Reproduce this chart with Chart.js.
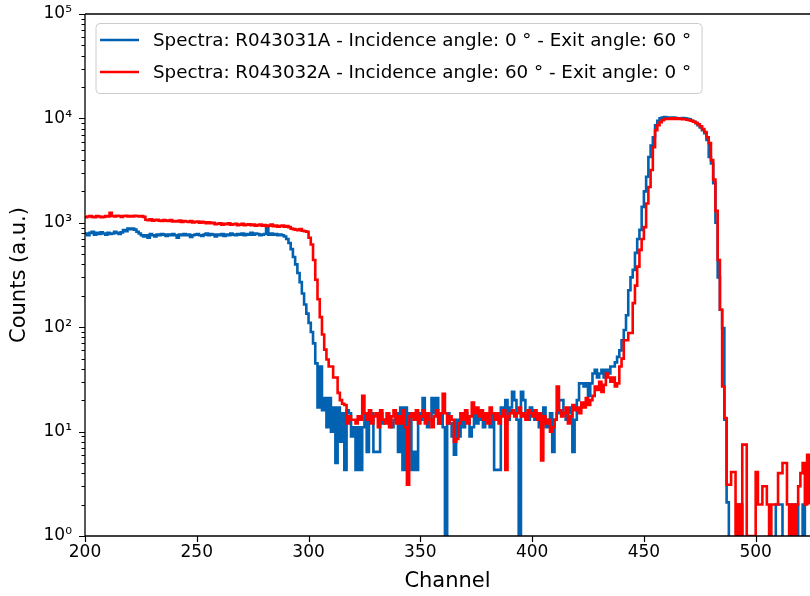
<!DOCTYPE html>
<html><head><meta charset="utf-8">
<script src="https://cdn.jsdelivr.net/npm/chart.js@4/dist/chart.umd.min.js"></script>
<style>html,body{margin:0;padding:0;background:#fff}#wrap{width:810px;height:596px;position:relative}</style>
</head><body><div id="wrap"><canvas id="c" width="810" height="596"></canvas></div>
<script>
const startChannel = 200;
const seriesLabels = [
  "Spectra: R043031A - Incidence angle: 0 ° - Exit angle: 60 °",
  "Spectra: R043032A - Incidence angle: 60 ° - Exit angle: 0 °"
];
const blueCounts = [
  790,760,800,820,770,800,780,810,790,770,
  800,780,790,820,800,780,810,850,830,880,
  870,880,860,820,790,760,740,760,720,780,
  760,740,770,760,780,770,750,770,760,780,
  760,720,770,760,780,760,770,730,760,770,
  780,760,750,770,790,760,780,770,740,770,
  760,780,750,770,760,790,770,760,780,770,
  790,760,780,770,800,770,790,780,760,770,
  780,900,770,790,770,780,760,770,760,740,
  700,640,560,470,400,330,270,210,165,135,
  110,90,70,45,17,42,16,21,11,21,
  10,17,5,17,8,15,4.3,16,15,9,
  11,4.3,11,4.3,11,15,6.4,15,15,6.4,
  6.4,6.4,15,12,13,15,12,11,13,15,
  6.4,17,4.3,17,6.4,15,4.3,6.4,4.3,15,
  13,21,15,11,13,21,15,21,12,15,
  11,0,15,12,9,6,13,9,15,11,
  15,13,9,11,16,12,15,13,11,15,
  13,11,15,4.3,4.3,4.3,17,15,20,13,
  17,24,20,13,0,24,20,15,13,17,
  15,13,15,11,13,17,11,13,15,6.4,
  13,15,20,20,15,13,15,17,6.4,13,
  20,29,29,27,29,22,29,36,39,33,
  36,39,33,39,36,42,42,46,52,60,
  75,94,130,226,300,354,515,700,855,1420,
  2000,2760,4270,5500,6600,8600,9500,10000,10200,10300,
  10200,10200,10100,10200,10100,10000,10000,10100,10000,9900,
  9800,9500,9300,9000,8600,8200,7700,7200,6200,4270,
  3700,2400,1000,300,147,98,13,2.1,0,0,
  0,0,2,2,0,0,0,0,0,0,
  0,0,0,0,0,0,0,0,0,2,
  2,2,0,0,0,2,2,2,2,0,
  0,2,0,0,0
];
const redCounts = [
  1130,1150,1160,1140,1130,1160,1150,1130,1140,1160,
  1150,1250,1160,1150,1170,1160,1140,1160,1170,1150,
  1160,1150,1170,1160,1150,1160,1140,1070,1060,1080,
  1050,1060,1070,1050,1040,1060,1050,1040,1060,1030,
  1040,1030,1050,1020,1040,1030,1020,1040,1010,1020,
  1030,1000,1020,1010,990,1010,990,1000,970,980,
  990,960,980,970,990,960,970,980,950,960,
  980,950,960,970,950,960,940,950,960,940,
  950,930,940,960,930,940,920,930,940,920,
  930,910,880,870,860,850,870,840,830,820,
  720,620,440,285,185,125,85,61,49,42,
  42,33,33,23.5,20,18.5,18,12,14,13,
  13,12,14,13,22,15,13,16,12,14,
  15,11,16,13,12,15,11,14,16,12,
  14,12,16,11,3.1,14,15,13,16,12,
  14,16,12,15,13,11,14,16,12,15,
  23,15,12,14,13,8,8.5,12,15,13,
  16,12,14,19,15,17,14,16,13,15,
  12,17,15,13,15,12,14,16,4.3,14,
  15,16,14,15,17,14,15,13,16,15,
  14,16,13,15,5.3,14,12,13,10,11,
  13,27,16,14,15,17,12,14,18,16,
  17,15,19,17,21,18,20,22,27,25,
  30,24,28,36,33,30,33,27,29,42,
  50,75,75,88,88,170,250,380,550,700,
  910,1530,2200,3200,5300,7700,8600,9200,9600,9900,
  9900,9900,10000,9900,10000,9900,9900,9800,9800,9700,
  9600,9500,9300,9100,8800,8400,7900,7400,6600,5800,
  4000,2600,1300,440,147,27,13.5,3.1,3.1,4.1,
  4.1,0,2,0,7.5,7.5,1,1,1,1,
  4.1,2,2,3,3,2,0,2,2,2,
  4,4,5,5,2,0,2,0,2,3,
  4,5,2,6,2
];
const xTickValues = [200,250,300,350,400,450,500];
const yTickValues = [1,10,100,1000,10000,100000];
const xRange = [200, 524.3];
const yRange = [1, 100000];

const SUP = {'0':'⁰','1':'¹','2':'²','3':'³','4':'⁴','5':'⁵','-':'⁻'};
const FONT = '"DejaVu Sans", "Liberation Sans", sans-serif';
const channels = blueCounts.map((_, i) => startChannel + i);
// zero counts fall below the log axis (clipped), as in the original
const toPoints = arr => arr.map((v, i) => ({x: channels[i], y: v > 0 ? v : 1e-3}));

const frame = {
  id: 'frame',
  afterDraw(chart) {
    const {ctx, chartArea: a, scales: {x, y}} = chart;
    ctx.save();
    ctx.strokeStyle = '#000';
    ctx.lineWidth = 1.3;
    ctx.beginPath();
    ctx.moveTo(a.left, a.top); ctx.lineTo(a.right + 2, a.top);
    ctx.moveTo(a.left, a.top); ctx.lineTo(a.left, a.bottom);
    ctx.moveTo(a.left, a.bottom); ctx.lineTo(a.right + 2, a.bottom);
    ctx.stroke();
    ctx.lineWidth = 1.2;
    ctx.beginPath();
    xTickValues.forEach(v => { const px = Math.round(x.getPixelForValue(v)) + 0.5; ctx.moveTo(px, a.bottom); ctx.lineTo(px, a.bottom + 6); });
    for (let e = 0; e < 5; e++) {
      for (let k = 1; k <= 9; k++) {
        const v = k * Math.pow(10, e);
        const py = Math.round(y.getPixelForValue(v)) + 0.5;
        const len = k === 1 ? 6 : 3.5;
        ctx.moveTo(a.left, py); ctx.lineTo(a.left - len, py);
      }
    }
    const pt = Math.round(y.getPixelForValue(yRange[1])) + 0.5;
    ctx.moveTo(a.left, pt); ctx.lineTo(a.left - 6, pt);
    ctx.stroke();

    // legend
    const ds = chart.data.datasets;
    ctx.font = '18.3px ' + FONT;
    const tw = Math.max(...ds.map(d => ctx.measureText(d.label).width));
    const lx = 96, ly = 23.5, lh = 70, lw = 153 - lx + tw + 11;
    const r = 4;
    ctx.beginPath();
    ctx.moveTo(lx + r, ly); ctx.lineTo(lx + lw - r, ly); ctx.quadraticCurveTo(lx + lw, ly, lx + lw, ly + r);
    ctx.lineTo(lx + lw, ly + lh - r); ctx.quadraticCurveTo(lx + lw, ly + lh, lx + lw - r, ly + lh);
    ctx.lineTo(lx + r, ly + lh); ctx.quadraticCurveTo(lx, ly + lh, lx, ly + lh - r);
    ctx.lineTo(lx, ly + r); ctx.quadraticCurveTo(lx, ly, lx + r, ly);
    ctx.closePath();
    ctx.fillStyle = 'rgba(255,255,255,0.8)';
    ctx.fill();
    ctx.strokeStyle = '#cccccc';
    ctx.lineWidth = 1;
    ctx.stroke();
    const rows = [40, 72];
    ds.forEach((d, i) => {
      ctx.strokeStyle = d.borderColor;
      ctx.lineWidth = 2.6;
      ctx.beginPath(); ctx.moveTo(100, rows[i]); ctx.lineTo(139, rows[i]); ctx.stroke();
      ctx.fillStyle = '#000';
      ctx.textBaseline = 'middle';
      ctx.textAlign = 'left';
      ctx.fillText(d.label, 153, rows[i] + 1);
    });
    ctx.restore();
  }
};

new Chart(document.getElementById('c'), {
  type: 'line',
  data: {
    datasets: [
      {label: seriesLabels[0], data: toPoints(blueCounts), borderColor: 'rgb(0,98,176)', borderWidth: 2.6, stepped: 'before', pointRadius: 0, fill: false, order: 2, clip: 0},
      {label: seriesLabels[1], data: toPoints(redCounts), borderColor: 'rgb(255,0,0)', borderWidth: 2.6, stepped: 'before', pointRadius: 0, fill: false, order: 1, clip: 0}
    ]
  },
  options: {
    responsive: false,
    animation: false,
    events: [],
    layout: {padding: {top: 14, right: 0, bottom: 0, left: 0}},
    plugins: {legend: {display: false}, tooltip: {enabled: false}},
    scales: {
      x: {
        type: 'linear', min: xRange[0], max: xRange[1],
        afterBuildTicks: s => { s.ticks = xTickValues.map(v => ({value: v})); },
        afterFit: s => { s.height = 60; s.paddingLeft = 0; s.paddingRight = 0; },
        grid: {display: false, drawTicks: false},
        border: {display: false},
        ticks: {color: '#000', font: {family: FONT, size: 17}, padding: 6, maxRotation: 0, autoSkip: false},
        title: {display: true, text: 'Channel', color: '#000', font: {family: FONT, size: 21}, padding: {top: 0, bottom: 2}}
      },
      y: {
        type: 'logarithmic', min: yRange[0], max: yRange[1],
        afterBuildTicks: s => { s.ticks = yTickValues.map(v => ({value: v})); },
        afterFit: s => { s.width = 85; s.paddingTop = 0; s.paddingBottom = 0; },
        grid: {display: false, drawTicks: false},
        border: {display: false},
        ticks: {
          color: '#000', font: {family: FONT, size: 17}, padding: 13, autoSkip: false,
          callback: v => '10' + String(Math.round(Math.log10(v))).split('').map(c => SUP[c]).join('')
        },
        title: {display: true, text: 'Counts (a.u.)', color: '#000', font: {family: FONT, size: 21}, padding: {top: 7, bottom: 0}}
      }
    }
  },
  plugins: [frame]
});
</script>
</body></html>
